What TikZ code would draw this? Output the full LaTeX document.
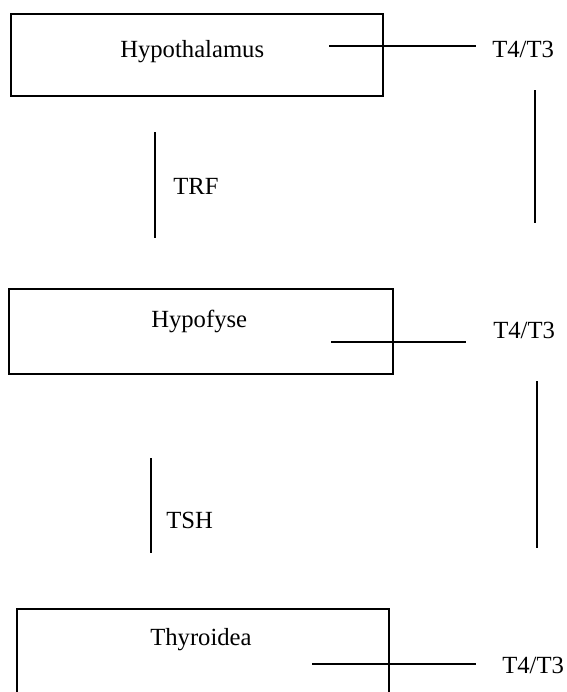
\documentclass[tikz,border=0pt]{standalone}
\usepackage{fontspec}
\setmainfont{Liberation Serif}
\begin{document}
\begin{tikzpicture}[x=0.75pt,y=-0.75pt,
  box/.style={draw=black,line width=1.5pt,rectangle,inner sep=0pt},
  conn/.style={draw=black,line width=1.4pt},
  lbl/.style={anchor=base west,inner sep=0pt,font=\fontsize{18.5pt}{22pt}\selectfont}]
\useasboundingbox (0,0) rectangle (567,692);
\clip (0,0) rectangle (567,692);
% boxes
\node[box,minimum width=372*0.75pt,minimum height=82*0.75pt] (hyp) at (197,55) {};
\node[box,minimum width=384*0.75pt,minimum height=85*0.75pt] (hpf) at (201,331.5) {};
\node[box,minimum width=372*0.75pt,minimum height=100*0.75pt] (thy) at (203,659) {};
% box texts
\node[lbl] (hyptxt) at (120,58) {Hypothalamus};
\node[lbl] (hpftxt) at (151,327) {Hypofyse};
\node[lbl] (thytxt) at (150,645) {Thyroidea};
% side labels
\node[lbl] (t1) at (492,58) {T4/T3};
\node[lbl] (t2) at (493,338) {T4/T3};
\node[lbl] (t3) at (502,673) {T4/T3};
\node[lbl] (trf) at (173,194) {TRF};
\node[lbl] (tsh) at (166,528) {TSH};
% connector end points
\coordinate (h1) at (329,46);  \coordinate (h2) at (476,46);
\coordinate (p1) at (331,342); \coordinate (p2) at (466,342);
\coordinate (y1) at (312,664); \coordinate (y2) at (476,664);
\coordinate (r1a) at (535,90);  \coordinate (r1b) at (535,223);
\coordinate (r2a) at (537,381); \coordinate (r2b) at (537,548);
\coordinate (trfa) at (155,132); \coordinate (trfb) at (155,238);
\coordinate (tsha) at (151,458); \coordinate (tshb) at (151,553);
% connectors
\draw[conn] (h1) -- (h2);
\draw[conn] (p1) -- (p2);
\draw[conn] (y1) -- (y2);
\draw[conn] (r1a) -- (r1b);
\draw[conn] (r2a) -- (r2b);
\draw[conn] (trfa) -- (trfb);
\draw[conn] (tsha) -- (tshb);
\end{tikzpicture}
\end{document}
